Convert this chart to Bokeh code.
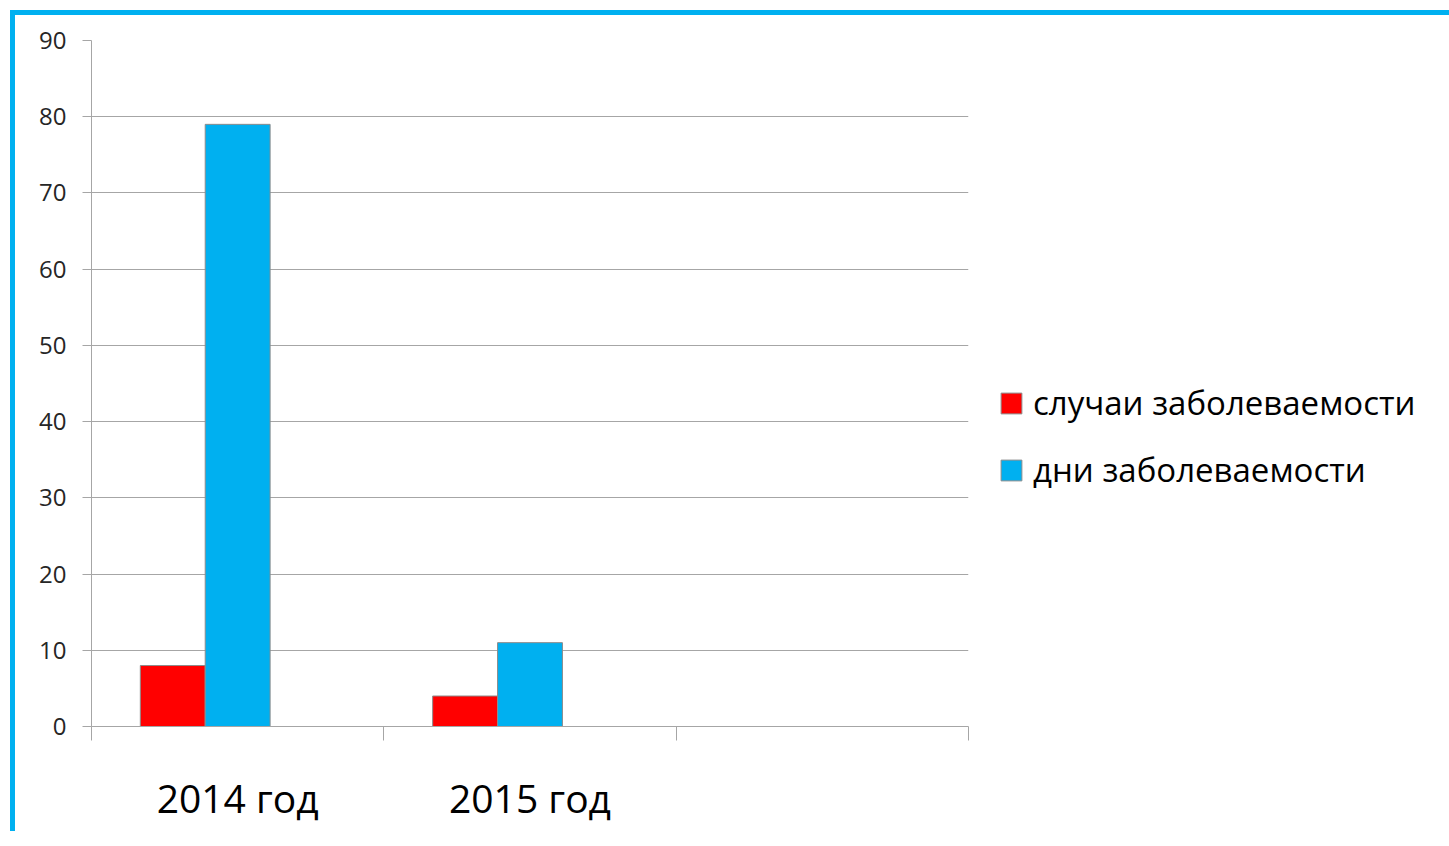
from bokeh.plotting import figure
from bokeh.models import (Range1d, LinearAxis, FixedTicker, Legend, LegendItem, ColumnDataSource)
from bokeh.embed import file_html
from bokeh.resources import INLINE

categories = ["2014 год", "2015 год", ""]
cases = [8, 4, 0]
days = [79, 11, 0]
series_names = ["случаи заболеваемости", "дни заболеваемости"]
series_colors = ["#ff0000", "#00b0f0"]
y_ticks = [0, 10, 20, 30, 40, 50, 60, 70, 80, 90]

FONT = "Open Sans"
GRID = "#a6a6a6"
BAR_W = 0.222

n = len(categories)
centers = [i + 0.5 for i in range(n)]
# Excel-style group of three slots; the third slot is empty
src = ColumnDataSource(dict(
    x1=[c - BAR_W for c in centers], x2=[c for c in centers],
    cases=cases, days=days))

p = figure(
    frame_width=877, frame_height=686,
    x_range=Range1d(0, n), y_range=Range1d(0, 90),
    output_backend="svg", toolbar_location=None,
    x_axis_location=None, y_axis_location=None,
    min_border_left=76, min_border_top=25, min_border_right=0, min_border_bottom=105,
)
p.styles = {"border-top": "5px solid #00b0f0", "border-left": "5px solid #00b0f0",
            "margin-left": "10px", "margin-top": "10px"}
p.outline_line_color = None
p.background_fill_color = "white"
p.border_fill_color = "white"

# y axis
yax = LinearAxis(ticker=FixedTicker(ticks=y_ticks))
yax.axis_line_color = GRID
yax.major_tick_line_color = GRID
yax.major_tick_out = 9
yax.major_tick_in = 0
yax.minor_tick_line_color = None
yax.major_label_text_font = FONT
yax.major_label_text_font_size = "24px"
yax.major_label_text_color = "#262626"
yax.major_label_standoff = 16
p.add_layout(yax, "left")

# x boundary ticks axis
xb = LinearAxis(ticker=FixedTicker(ticks=list(range(n + 1))))
xb.major_label_overrides = {i: "" for i in range(n + 1)}
xb.major_label_text_font_size = "1px"
xb.axis_line_color = GRID
xb.major_tick_line_color = GRID
xb.major_tick_out = 14
xb.major_tick_in = 0
xb.minor_tick_line_color = None
p.add_layout(xb, "below")

# category label axis
xc = LinearAxis(ticker=FixedTicker(ticks=centers))
xc.major_label_overrides = {c: lab for c, lab in zip(centers, categories)}
xc.axis_line_color = None
xc.major_tick_line_color = None
xc.minor_tick_line_color = None
xc.major_label_text_font = FONT
xc.major_label_text_font_size = "39px"
xc.major_label_text_color = "black"
xc.major_label_standoff = 24
p.add_layout(xc, "below")

# grid
p.ygrid.ticker = FixedTicker(ticks=y_ticks)
p.ygrid.grid_line_color = GRID
p.ygrid.grid_line_width = 1
p.xgrid.grid_line_color = None

r1 = p.vbar(x="x1", top="cases", width=BAR_W, source=src,
            fill_color=series_colors[0], line_color="#8c8c8c", line_width=1)
r2 = p.vbar(x="x2", top="days", width=BAR_W, source=src,
            fill_color=series_colors[1], line_color="#8c8c8c", line_width=1)

legend = Legend(items=[LegendItem(label=series_names[0], renderers=[r1]),
                       LegendItem(label=series_names[1], renderers=[r2])],
                location=(30, 234))
legend.border_line_color = None
legend.background_fill_alpha = 0
legend.glyph_width = 26
legend.glyph_height = 26
legend.label_text_font = FONT
legend.label_text_font_size = "33px"
legend.label_text_color = "black"
legend.label_standoff = 9
legend.spacing = 22
legend.padding = 0
legend.margin = 0
legend.label_height = 42
p.add_layout(legend, "right")

open("out.html", "w").write(file_html(p, INLINE))
